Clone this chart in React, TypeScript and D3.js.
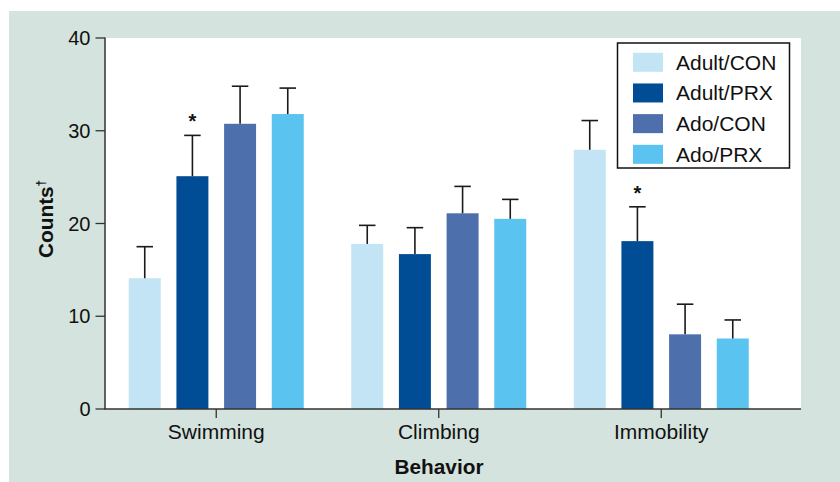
import React from "react";
import * as d3 from "d3";

const categories = ["Swimming", "Climbing", "Immobility"];
const seriesNames = ["Adult/CON", "Adult/PRX", "Ado/CON", "Ado/PRX"];
const seriesColors = ["#c3e4f5", "#014d95", "#4d6fab", "#5bc3f0"];
const adultCon = [14.1, 17.8, 27.95];
const adultPrx = [25.1, 16.7, 18.1];
const adoCon = [30.75, 21.1, 8.05];
const adoPrx = [31.8, 20.5, 7.6];
const adultConErr = [3.4, 2.0, 3.15];
const adultPrxErr = [4.4, 2.85, 3.7];
const adoConErr = [4.05, 2.9, 3.25];
const adoPrxErr = [2.8, 2.1, 2.0];
const adultPrxSig = [true, false, true];
const yTicks = [0, 10, 20, 30, 40];

const seriesValues = [adultCon, adultPrx, adoCon, adoPrx];
const seriesErrors = [adultConErr, adultPrxErr, adoConErr, adoPrxErr];
const seriesSig = [[false, false, false], adultPrxSig, [false, false, false], [false, false, false]];

export default function App() {
  const W = 840, H = 482;
  const plotL = 105, plotR = 801, plotT = 38, plotB = 409;
  const font = "'Liberation Sans', Arial, Helvetica, sans-serif";

  const y = d3.scaleLinear().domain([0, 40]).range([plotB, plotT]);
  const x0 = d3.scaleBand<string>().domain(categories).range([plotL, 772.5]).paddingInner(0).paddingOuter(0);
  const x1 = d3.scaleBand<string>().domain(seriesNames).range([23.75, 198.75]).paddingInner(0.329).paddingOuter(0);
  const bw = x1.bandwidth();
  const capW = 16.5;

  const legendRows = d3.scaleLinear().domain([0, 3]).range([62.3, 154.3]);

  return (
    <svg width={W} height={H} style={{ position: "absolute", left: 0, top: 0, fontFamily: font }}>
      <rect x={0} y={0} width={W} height={H} fill="#ffffff" />
      <rect x={9} y={11} width={W - 9} height={H - 11} fill="#d4e3dd" />
      <rect x={plotL} y={plotT} width={plotR - plotL} height={plotB - plotT} fill="#ffffff" />

      {/* bars */}
      {categories.map((cat, ci) =>
        seriesNames.map((s, si) => {
          const v = seriesValues[si][ci];
          const e = seriesErrors[si][ci];
          const bx = (x0(cat) as number) + (x1(s) as number);
          const cx = bx + bw / 2;
          const topY = y(v + e);
          return (
            <g key={cat + s}>
              <rect x={bx} y={y(v)} width={bw} height={plotB - y(v)} fill={seriesColors[si]} />
              <line x1={cx} x2={cx} y1={y(v)} y2={topY} stroke="#1a1a1a" strokeWidth={1.6} />
              <line x1={cx - capW / 2} x2={cx + capW / 2} y1={topY} y2={topY} stroke="#1a1a1a" strokeWidth={1.6} />
              {seriesSig[si][ci] && (
                <text x={cx} y={topY - 7} textAnchor="middle" fontSize={20} fontWeight="bold" fill="#111">*</text>
              )}
            </g>
          );
        })
      )}

      {/* y axis */}
      <line x1={plotL} x2={plotL} y1={plotT - 0.5} y2={plotB} stroke="#333" strokeWidth={1.5} />
      {yTicks.map((t) => (
        <g key={t}>
          <line x1={plotL - 9.5} x2={plotL} y1={y(t)} y2={y(t)} stroke="#333" strokeWidth={1.3} />
          <text x={90.5} y={y(t) + 7} textAnchor="end" fontSize={20} fill="#111">{t}</text>
        </g>
      ))}

      {/* x axis */}
      <line x1={plotL - 0.7} x2={plotR} y1={plotB} y2={plotB} stroke="#333" strokeWidth={1.6} />
      {categories.map((cat) => {
        const cx = (x0(cat) as number) + 111.25;
        return (
          <g key={cat}>
            <line x1={cx} x2={cx} y1={plotB} y2={plotB + 9} stroke="#333" strokeWidth={1.3} />
            <text x={cx} y={438.5} textAnchor="middle" fontSize={21} fill="#111">{cat}</text>
          </g>
        );
      })}

      {/* axis titles */}
      <text x={439} y={473.5} textAnchor="middle" fontSize={20.8} fontWeight="bold" fill="#111">Behavior</text>
      <text transform="translate(52.5,258) rotate(-90)" fontSize={20.8} fontWeight="bold" fill="#111">
        Counts<tspan fontSize={12} dy={-8}>†</tspan>
      </text>

      {/* legend */}
      <rect x={617.5} y={43} width={172} height={125} fill="#ffffff" stroke="#111" strokeWidth={1.5} />
      {seriesNames.map((s, i) => (
        <g key={s}>
          <rect x={633} y={legendRows(i) - 9.5} width={30} height={19} fill={seriesColors[i]} />
          <text x={676} y={legendRows(i) + 7.5} fontSize={21} fill="#111">{s}</text>
        </g>
      ))}
    </svg>
  );
}
